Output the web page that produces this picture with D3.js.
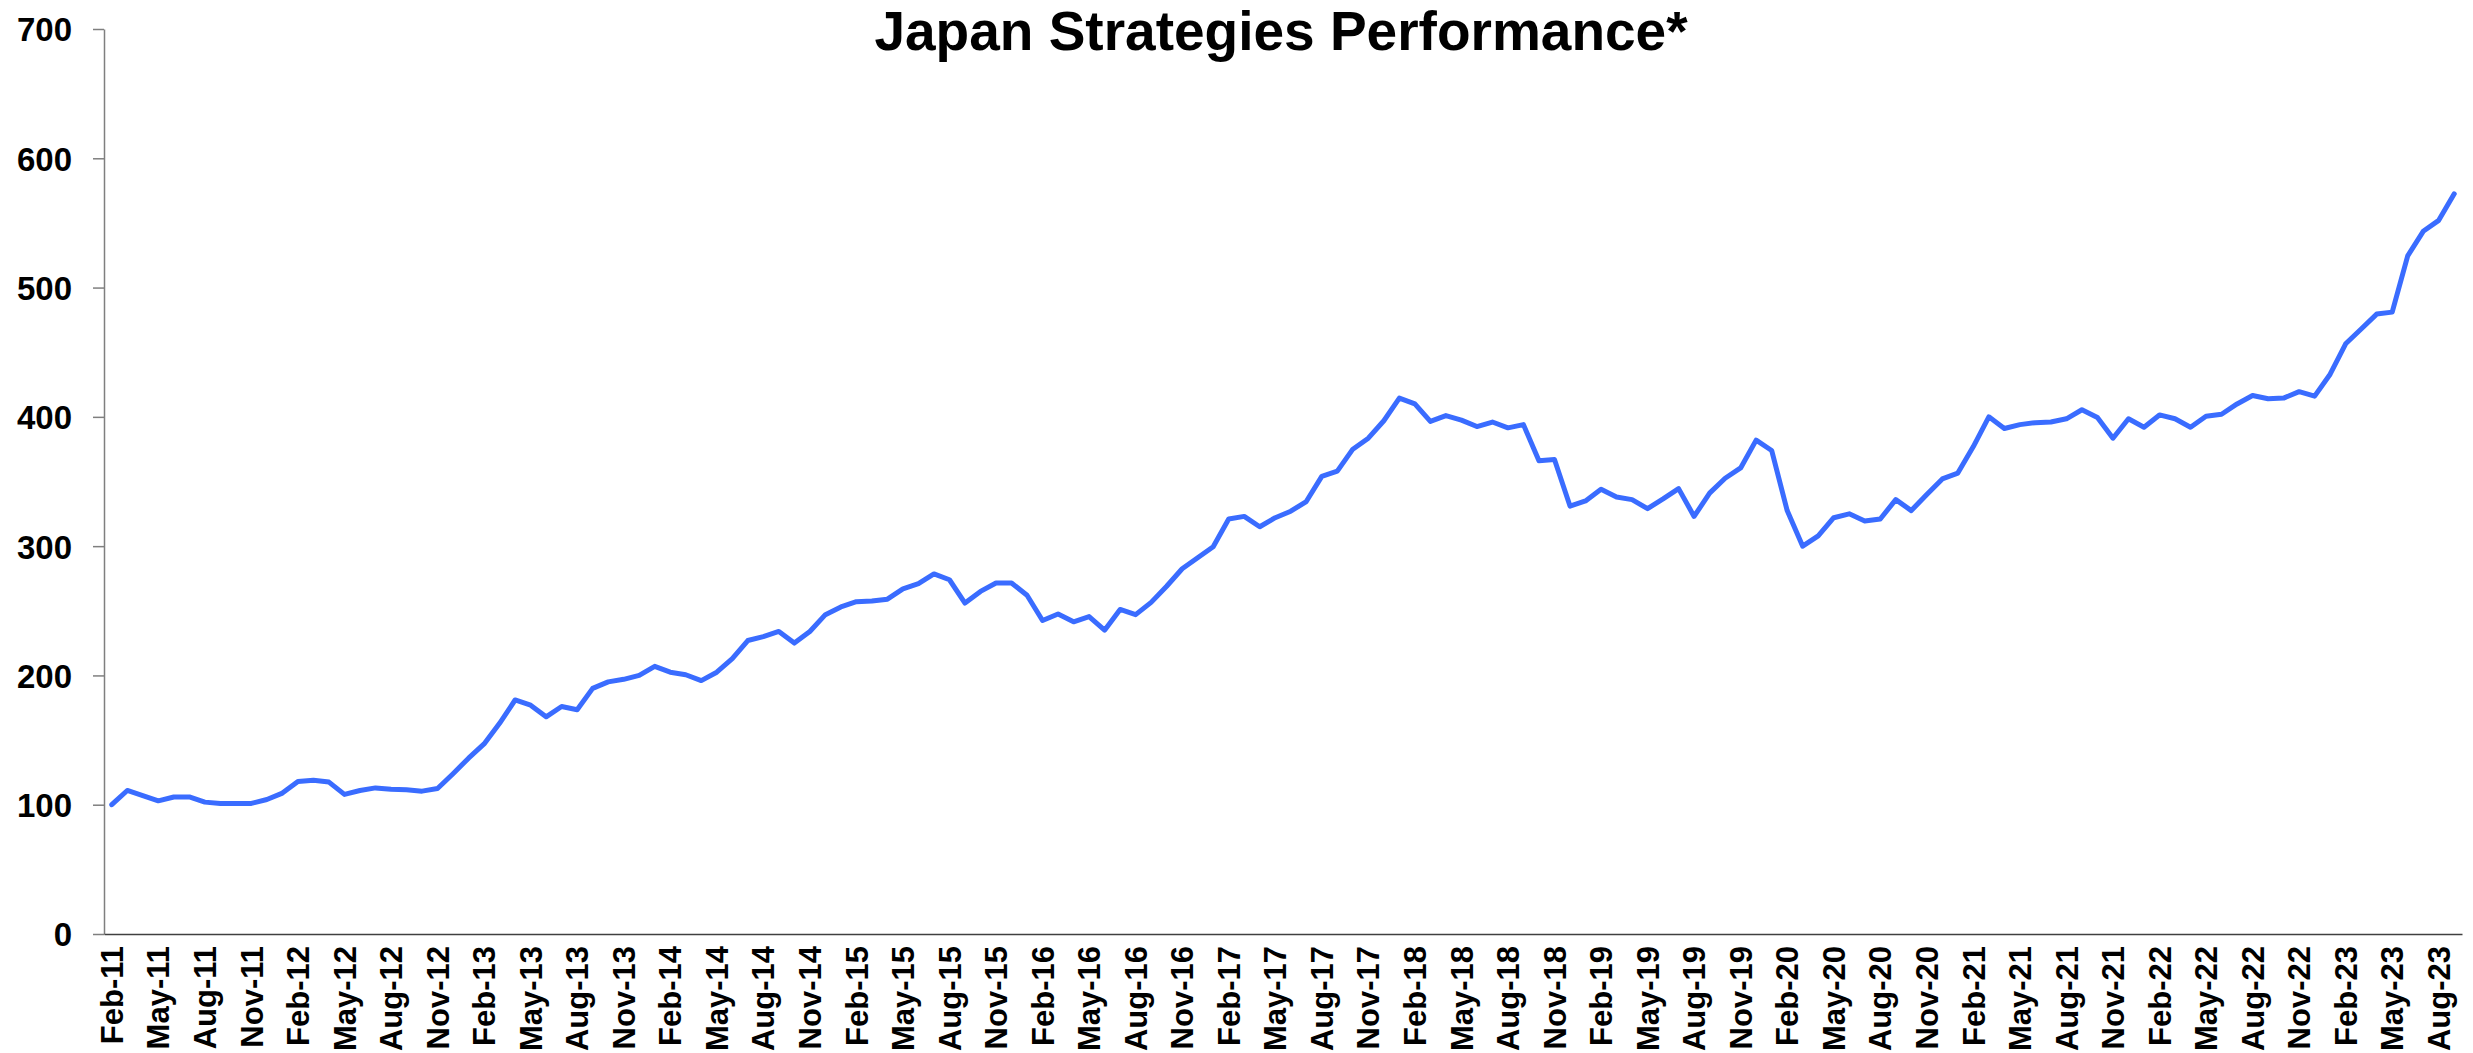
<!DOCTYPE html>
<html>
<head>
<meta charset="utf-8">
<title>Japan Strategies Performance</title>
<script src="https://cdn.jsdelivr.net/npm/d3@7"></script>
<style>
  body { margin: 0; background: #fff; }
  text { font-family: "Liberation Sans", Arial, sans-serif; font-weight: bold; fill: #000; }
</style>
</head>
<body>
<div id="chart"></div>
<script>
// monthly index, first point Feb-11
const startMonth = new Date(2011, 1, 1);

const values = [
  100, 111, 107, 103, 106, 106, 102, 101, 101, 101, 104, 109, 118, 119, 117.5, 108,
  111, 113, 112, 111.5, 110.5, 112.5, 124, 136, 147, 163, 181, 177, 168, 176, 173.5, 190,
  195, 197, 200, 207, 202.5, 200.5, 196, 202.5, 213, 227, 230, 234, 225, 234, 247, 253,
  257, 257.5, 259, 267, 271, 278.5, 274, 256, 265, 271.5, 271.5, 262, 242.5, 247.5, 241.5, 245.5,
  235, 251, 247, 256.5, 269, 282.5, 291, 299.5, 321, 323, 315, 322, 327, 334.5, 354, 358,
  375, 383.5, 397, 414.5, 410, 396.5, 401, 397.5, 392.5, 396, 391.5, 394, 366, 367,
  331, 335, 344, 338, 336, 329, 336.5, 344.5, 323, 341, 352.5, 360.5, 382, 374, 327.5, 300,
  308, 322, 325, 319.5, 321, 336, 327.5, 340, 352, 356.5, 377, 400, 391, 394, 395.5, 396, 398.5,
  405.5, 399.5, 383.5, 398.5, 392, 401.5, 398.5, 392, 400.5, 402, 410, 416.5, 414, 414.5, 419.5, 416,
  433, 456.5, 468, 479.5, 481, 524.5, 543.5, 552, 572.5
];

const yTicks = [0, 100, 200, 300, 400, 500, 600, 700];
const tickEvery = 3; // a label every 3 months

const months = values.map((v, i) => d3.timeMonth.offset(startMonth, i));
const fmt = d3.timeFormat("%b-%y");

const width = 2473, height = 1053;
const margin = {top: 29, right: 11, bottom: 119, left: 104};

const svg = d3.select('#chart').append('svg')
    .attr('width', width)
    .attr('height', height);

svg.append('rect')
    .attr('width', width)
    .attr('height', height)
    .attr('fill', '#fff');

let x = d3.scaleBand()
    .domain(months.map(d => fmt(d)))
    .range([margin.left, width - margin.right])
    .padding(0);

let y = d3.scaleLinear()
    .domain([0, 700])
    .range([height - margin.bottom, margin.top]);

// Y axis
const yAxis = svg.append("g")
    .attr("transform", "translate(" + margin.left + ",0)")
    .call(d3.axisLeft(y).tickValues(yTicks).tickSize(11).tickSizeOuter(0).tickPadding(21));
yAxis.selectAll("path, line").attr("stroke", "#7f7f7f").attr("stroke-width", 1.5);
yAxis.selectAll("text")
    .style("font-size", "33px")
    .attr("dy", "0.36em");

// X axis
const xAxis = svg.append("g")
    .attr("transform", "translate(0," + y(0) + ")")
    .call(d3.axisBottom(x)
        .tickValues(x.domain().filter((d, i) => i % tickEvery === 0))
        .tickSize(0)
        .tickSizeOuter(0));
xAxis.select(".domain").attr("stroke", "#404040").attr("stroke-width", 1.5);
xAxis.selectAll("text")
    .style("font-size", "31px")
    .style("text-anchor", "end")
    .attr("transform", "translate(0,12)rotate(-90)")
    .attr("x", 0)
    .attr("y", 0)
    .attr("dy", "0.36em");

// Line
const line = d3.line()
    .x((d, i) => x(fmt(months[i])) + x.bandwidth() / 2)
    .y(d => y(d));

svg.append("path")
    .datum(values)
    .attr("fill", "none")
    .attr("stroke", "#3a6cff")
    .attr("stroke-width", 5)
    .attr("stroke-linejoin", "round")
    .attr("stroke-linecap", "round")
    .attr("d", line);

// Title
svg.append("text")
    .attr("x", 1281)
    .attr("y", 50)
    .attr("text-anchor", "middle")
    .style("font-size", "55px")
    .text("Japan Strategies Performance*");
</script>
</body>
</html>
